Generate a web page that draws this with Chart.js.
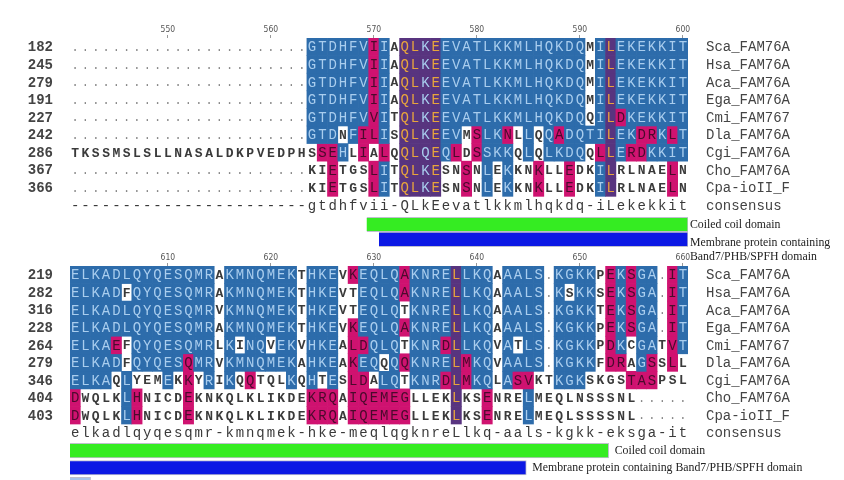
<!DOCTYPE html>
<html>
<head>
<meta charset="utf-8">
<script src="https://cdn.jsdelivr.net/npm/chart.js@4.4.0/dist/chart.umd.min.js"></script>
<style>
  html, body { margin: 0; padding: 0; background: #fff; }
  body { width: 844px; height: 480px; position: relative; overflow: hidden; }
  .blk { position: absolute; left: 0; width: 844px; }
  #topBlk { top: 0; height: 262px; }
  #botBlk { top: 230px; height: 250px; }
</style>
</head>
<body>
<div class="blk" id="topBlk"><canvas id="topChart"></canvas></div>
<div class="blk" id="botBlk"><canvas id="botChart"></canvas></div>
<script>
// Alignment data. Spaces inside the strings are only for readability.
const rowNames = ['Sca_FAM76A', 'Hsa_FAM76A', 'Aca_FAM76A', 'Ega_FAM76A', 'Cmi_FAM767',
                  'Dla_FAM76A', 'Cgi_FAM76A', 'Cho_FAM76A', 'Cpa-ioII_F', 'consensus'];

// block 1: columns 541..600
const topFirstCol = 541;
const topStartNums = ['182', '245', '279', '191', '227', '242', '286', '367', '366', ''];
const topSeqs = [
    '.'.repeat(23) + 'GTDHFVIIAQLKEEVATLKKMLHQKDQMILEKEKKIT',
    '.'.repeat(23) + 'GTDHFVIIAQLKEEVATLKKMLHQKDQMILEKEKKIT',
    '.'.repeat(23) + 'GTDHFVIIAQLKEEVATLKKMLHQKDQMILEKEKKIT',
    '.'.repeat(23) + 'GTDHFVIIAQLKEEVATLKKMLHQKDQMILEKEKKIT',
    '.'.repeat(23) + 'GTDHFVVITQLKEEVATLKKMLHQKDQQILDKEKKIT',
    '.'.repeat(23) + 'GTDNFILISQLKEEVMSLKNLLQQADQTILEKDRKLT',
    'TKSSMSLSLLNASALDKPVEDPHS SEHLIALQ QLQE QLDSSKKQLQLKDQQLLERDKKIT',
    '.'.repeat(23) + 'KIETGSLITQLKESNSNLEKKNKLLEDKILRLNAELN',
    '.'.repeat(23) + 'KIETGSLITQLKESNSNLEKKNKLLEDKILRLNAELN',
    '-'.repeat(23) + 'gtdhfvii-QLkEevatlkkmlhqkdq-iLekekkit'
];
// shading class per residue: b blue, m magenta, p purple (gold text), P purple (light text), w none
const topShade = [
    'w'.repeat(23) + 'bbbbbbmbwppPpb bbbbbbbbbbbbb wbpbbbbbbb',
    'w'.repeat(23) + 'bbbbbbmbwppPpb bbbbbbbbbbbbb wbpbbbbbbb',
    'w'.repeat(23) + 'bbbbbbmbwppPpb bbbbbbbbbbbbb wbpbbbbbbb',
    'w'.repeat(23) + 'bbbbbbmbwppPpb bbbbbbbbbbbbb wbpbbbbbbb',
    'w'.repeat(23) + 'bbbbbbmbwppPpb bbbbbbbbbbbbb wbpmbbbbbb',
    'w'.repeat(23) + 'bbbwbmmbw ppPp bbwmbbmwbwbmbbbb pbbmmbmb',
    'w'.repeat(24) + 'mmbwmwmw ppPp bmwmbbbwbwbbbbwmpbmmbbbb',
    'w'.repeat(23) + 'wwmwwwmbw ppPp wwmwbwbwwmwwmwwbp wwwwwmw',
    'w'.repeat(23) + 'wwmwwwmbw ppPp wwmwbwbwwmwwmwwbp wwwwwmw',
    'w'.repeat(60)
];
const topTicks = [550, 560, 570, 580, 590, 600];
const topDomainNames = [['Coiled coil domain'], ['Membrane protein containing', 'Band7/PHB/SPFH domain']];
const topDomainStart = [569.3, 570.5];
const topDomainEnd = [600.5, 600.5];

// block 2: columns 601..660
const botFirstCol = 601;
const botStartNums = ['219', '282', '316', '228', '264', '279', '346', '404', '403', ''];
const botSeqs = [
    'ELKADLQYQESQMRAKMNQMEKTHKEVKEQLQAKNRELLKQAAALS.KGKKPEKSGA.IT',
    'ELKADFQYQESQMRAKMNQMEKTHKEVTEQLQAKNRELLKQAAALS.KSKKSEKSGA.IT',
    'ELKADLQYQESQMRVKMNQMEKTHKEVTEQLQTKNRELLKQAAALS.KGKKTEKSGA.IT',
    'ELKADLQYQESQMRAKMNQMEKTHKEVKEQLQAKNRELLKQAAALS.KGKKPEKSGA.IT',
    'ELKAEFQYQESQMRLKINQVEKVHKEALDQLQTKNRDLLKQVATLS.KGKKPDKCGATVT',
    'ELKADFQYQESQMRVKMNQMEKAHKEAKEQQQQKNRELMKQVAALS.KGKKFDRAGSSLL',
    'ELKAQLYEMEKKYRIKQQTQLKQHTESLDALQTKNRDLMKQLASVKTKGKSKGSTASPSL',
    'DWQLKLHNICDEKNKQLKLIKDEKRQAIQEMEGLLEKLKSENRELMEQLNSSSNL.....',
    'DWQLKLHNICDEKNKQLKLIKDEKRQAIQEMEGLLEKLKSENRELMEQLSSSSNL.....',
    'elkadlqyqesqmr-kmnqmek-hke-meqlqgknreLlkq-aals-kgkk-eksga-it'
];
const botShade = [
    'bbbbbbbbbbbbbb w bbbbbbb w bbb w m bbbb m bbbb p bbb w bbbb w bbbb w m b m bb w m b',
    'bbbbbwbbbbbbbb w bbbbbbb w bbb w w bbbb m bbbb p bbb w bbbb w bwbb w m b m bb w m b',
    'bbbbbbbbbbbbbb w bbbbbbb w bbb w w bbbb w bbbb p bbb w bbbb w bbbb w m b m bb w m b',
    'bbbbbbbbbbbbbb w bbbbbbb w bbb w m bbbb m bbbb p bbb w bbbb w bbbb w m b m bb w m b',
    'bbbbmwbbbbbbbb w bwbbwbb w bbb w m m bbb w bbb m p bbb w bwbb w bbbb w m b w bb w m b',
    'bbbbbwbbbbbmbb w bbbbbbb w bbb w m bb w b m bbbb p m bb w bbbb w bbbb w m m w b m w m w',
    'bbbb w b www b w m w b w b w m www b w b w b w mm w bb w bbb m p m bb w b mm ww bbb wwww mmm www',
    'm wwww b m wwww m wwwww wwwww w mmm w mmmmmm wwww p ww m www b wwwww wwwww wwwww',
    'm wwww b m wwww m wwwww wwwww w mmm w mmmmmm wwww p ww m www b wwwww wwwww wwwww',
    'w'.repeat(60)
];
const botTicks = [610, 620, 630, 640, 650, 660];
const botDomainNames = [['Coiled coil domain'], ['Membrane protein containing Band7/PHB/SPFH domain'], ['']];
const botDomainStart = [600.5, 600.5, 600.5];
const botDomainEnd = [652.8, 644.8, 602.5];

// styles
const shadeBg = { b: '#2d6cab', m: '#cf1270', p: '#58347f', P: '#58347f', w: 'rgba(0,0,0,0)' };
const shadeFg = { b: '#a9cdee', m: '#4a0a2c', p: '#e8a53c', P: '#a9cdee', w: '#3a3a3a' };
const domainColors = ['#35ec22', '#0c18e4', '#a8c4ea'];
const ROW_PX = 17.6;

const clean = s => s.replace(/ /g, '');

const alignPlugin = {
    id: 'alignText',
    afterDatasetsDraw(chart) {
        const ctx = chart.ctx;
        const cfg = chart.options.plugins.alignText;
        ctx.save();
        ctx.textBaseline = 'middle';
        chart.data.datasets.forEach((ds, di) => {
            const meta = chart.getDatasetMeta(di);
            if (ds.letters) {
                ctx.textAlign = 'center';
                meta.data.forEach((bar, i) => {
                    const ch = ds.letters[i];
                    const code = ds.shade[i];
                    const cx = (bar.x + bar.base) / 2;
                    if (ch === '.') {
                        ctx.fillStyle = '#888';
                        ctx.font = '12px "Liberation Mono"';
                    } else if (ds.consensus) {
                        ctx.fillStyle = '#3a3a3a';
                        ctx.font = '14px "Liberation Mono"';
                    } else if (code === 'w') {
                        ctx.fillStyle = shadeFg[code];
                        ctx.font = 'bold 13px "Liberation Mono"';
                    } else {
                        ctx.fillStyle = shadeFg[code];
                        ctx.font = '14px "Liberation Mono"';
                    }
                    ctx.fillText(ch, cx, bar.y + 1);
                });
                const y = meta.data[0].y + 1;
                ctx.fillStyle = '#444';
                ctx.textAlign = 'right';
                ctx.font = 'bold 14px "Liberation Mono"';
                ctx.fillText(ds.startNum, 53, y);
                ctx.textAlign = 'left';
                ctx.font = '14px "Liberation Mono"';
                ctx.fillText(ds.name, 706, y);
            } else if (ds.domainLabel) {
                const bar = meta.data[0];
                ctx.fillStyle = '#222';
                ctx.font = '11.8px "Liberation Serif"';
                ctx.textAlign = 'left';
                ds.domainLabel.forEach((line, k) => {
                    ctx.fillText(line, bar.x + cfg.labelGap, bar.y + (ds.domainLabel.length > 1 ? 3 : 0) + k * 14);
                });
            }
        });
        ctx.restore();
    }
};

function buildBlock(canvasId, firstCol, seqs, shades, startNums, ticks,
                    domNames, domStart, domEnd, domRows, yMax, axisH, padBottom, labelGap) {
    const datasets = seqs.map((raw, r) => {
        const letters = clean(raw);
        const shade = clean(shades[r]);
        return {
            data: letters.split('').map((ch, i) => ({ x: [firstCol + i - 0.5, firstCol + i + 0.5], y: r })),
            backgroundColor: shade.split('').map(c => shadeBg[c]),
            barThickness: ROW_PX,
            letters: letters,
            shade: shade,
            consensus: r === seqs.length - 1,
            startNum: startNums[r],
            name: rowNames[r]
        };
    });
    domNames.forEach((lines, k) => {
        datasets.push({
            data: [{ x: [domStart[k], domEnd[k]], y: domRows[k] }],
            backgroundColor: domainColors[k],
            borderColor: 'rgba(0,0,60,0.25)',
            borderWidth: 1,
            barThickness: 14.5,
            domainLabel: lines
        });
    });

    return new Chart(document.getElementById(canvasId), {
        type: 'bar',
        data: { datasets },
        options: {
            indexAxis: 'y',
            responsive: true,
            maintainAspectRatio: false,
            animation: false,
            events: [],
            datasets: { bar: { grouped: false } },
            layout: { padding: { left: 70, right: 156, top: 0, bottom: padBottom } },
            plugins: {
                legend: { display: false },
                tooltip: { enabled: false },
                alignText: { labelGap }
            },
            scales: {
                x: {
                    type: 'linear',
                    position: 'top',
                    offset: false,
                    min: firstCol - 0.5,
                    max: firstCol + 59.5,
                    afterBuildTicks: scale => { scale.ticks = ticks.map(v => ({ value: v })); },
                    afterFit: scale => { scale.height = axisH; },
                    border: { display: false },
                    grid: { drawOnChartArea: false, tickLength: 3, color: '#999' },
                    ticks: {
                        autoSkip: false,
                        maxRotation: 0,
                        padding: 0,
                        color: '#555',
                        font: { family: 'DejaVu Sans Condensed', size: 8.5 },
                        callback: v => String(v)
                    }
                },
                y: {
                    type: 'linear',
                    reverse: true,
                    offset: false,
                    min: -0.5,
                    max: yMax,
                    display: false
                }
            }
        },
        plugins: [alignPlugin]
    });
}

buildBlock('topChart', topFirstCol, topSeqs, topShade, topStartNums, topTicks,
           topDomainNames, topDomainStart, topDomainEnd, [10.1, 10.95], 11.55, 38, 12, 2);
buildBlock('botChart', botFirstCol, botSeqs, botShade, botStartNums, botTicks,
           botDomainNames, botDomainStart, botDomainEnd, [10.02, 10.99, 11.95], 11.69, 36, 0, 6);
</script>
</body>
</html>
